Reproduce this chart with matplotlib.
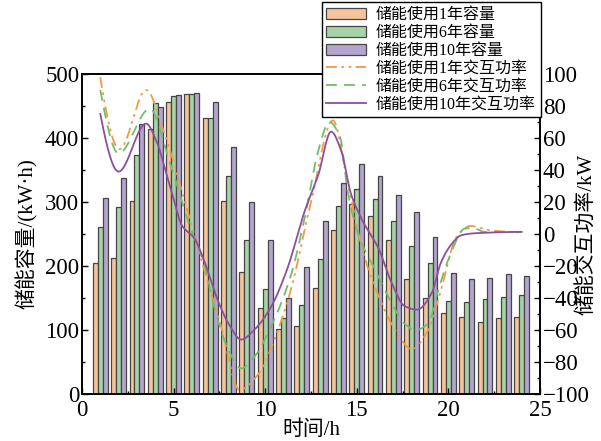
import numpy as np
import matplotlib
matplotlib.use("Agg")
import matplotlib.pyplot as plt
from matplotlib.ticker import MultipleLocator

plt.rcParams['font.family'] = ['Liberation Serif', 'Noto Sans CJK SC']
plt.rcParams['axes.unicode_minus'] = True

hours = np.arange(1, 25)
cap_1y = [204, 212, 302, 414, 457, 468, 431, 301, 190, 135, 101, 107, 166, 256, 297, 278, 240, 180, 150, 127, 121, 112, 118, 120]
cap_6y = [261, 292, 373, 454, 465, 468, 432, 340, 240, 164, 118, 139, 211, 293, 320, 305, 271, 231, 205, 146, 144, 149, 151, 154]
cap_10y = [306, 338, 422, 448, 467, 471, 456, 386, 300, 241, 150, 198, 270, 330, 359, 340, 311, 284, 246, 189, 179, 182, 188, 184]

p1_x = [1, 2.05, 3.5, 4.5, 5.5, 6.5, 7.6, 8.6, 9.6, 10.7, 11.4, 12.5, 13.7, 14.5, 15.4, 16.2, 17.1, 18.0, 18.9, 19.45, 20.5, 21.2, 22.3, 24]
p1_v = [98, 53, 90, 63, 25, -15.6, -58, -97.5, -88, -60, -35, 20, 71, 32, -13.5, -39, -60, -72, -60, -41, -1, 5, 2.3, 1]

p6_x = [1, 2, 3.7, 4.8, 5.9, 6.7, 7.25, 8.0, 8.7, 9.4, 10.15, 11.4, 12.15, 12.9, 13.5, 14.1, 14.5, 15.1, 15.9, 16.9, 17.6, 18.2, 18.9, 19.45, 20.0, 20.9, 21.3, 22, 24]
p6_v = [90, 50.4, 78.3, 44.5, 4.4, -19.8, -47, -72.6, -84, -77, -62, -26, 9.7, 52, 70, 60, 27, -1, -20, -43, -56, -60, -56, -35, -16, 3.4, 3.8, 1.3, 1.3]

p10_x = [1, 2, 3.5, 4.1, 4.6, 5.0, 5.45, 6.15, 6.7, 7.4, 8.0, 8.7, 9.4, 10.3, 11.2, 12.15, 12.9, 13.6, 14.15, 14.7, 15.25, 16.2, 16.9, 17.6, 18.3, 19.1, 19.6, 20.2, 20.7, 21.5, 24]
p10_v = [75, 39, 69, 57, 38, 22, 5.5, -3, -17.7, -41, -56, -66, -60, -46, -22, 14, 37, 64, 52, 24.5, 9.7, -9.3, -30.4, -45, -47.3, -36.7, -17.7, -6, -0.8, 0.5, 1.3]


def pchip(x, y, xs):
    x = np.asarray(x, float); y = np.asarray(y, float)
    h = np.diff(x); d = np.diff(y) / h
    n = len(x); m = np.zeros(n)
    for k in range(1, n - 1):
        if d[k - 1] * d[k] > 0:
            w1 = 2 * h[k] + h[k - 1]; w2 = h[k] + 2 * h[k - 1]
            m[k] = (w1 + w2) / (w1 / d[k - 1] + w2 / d[k])
    def endslope(h0, h1, d0, d1):
        s = ((2 * h0 + h1) * d0 - h0 * d1) / (h0 + h1)
        if np.sign(s) != np.sign(d0):
            s = 0
        elif np.sign(d0) != np.sign(d1) and abs(s) > abs(3 * d0):
            s = 3 * d0
        return s
    m[0] = endslope(h[0], h[1], d[0], d[1])
    m[-1] = endslope(h[-1], h[-2], d[-1], d[-2])
    idx = np.clip(np.searchsorted(x, xs) - 1, 0, n - 2)
    t = (xs - x[idx]) / h[idx]
    h00 = 2 * t**3 - 3 * t**2 + 1; h10 = t**3 - 2 * t**2 + t
    h01 = -2 * t**3 + 3 * t**2; h11 = t**3 - t**2
    return h00 * y[idx] + h10 * h[idx] * m[idx] + h01 * y[idx + 1] + h11 * h[idx] * m[idx + 1]


fig = plt.figure(figsize=(6.01, 4.41), dpi=100)
ax = fig.add_axes([0.1364, 0.1066, 0.762, 0.7256])
ax2 = ax.twinx()

w = 0.27
c1, c6, c10 = '#F6C49C', '#A6D4A6', '#B4A5CE'
ec = '#454545'
b1 = ax.bar(hours - w, cap_1y, w, color=c1, edgecolor=ec, linewidth=0.9, label='储能使用1年容量')
b6 = ax.bar(hours, cap_6y, w, color=c6, edgecolor=ec, linewidth=0.9, label='储能使用6年容量')
b10 = ax.bar(hours + w, cap_10y, w, color=c10, edgecolor=ec, linewidth=0.9, label='储能使用10年容量')

xs1 = np.linspace(p1_x[0], p1_x[-1], 400)
xs6 = np.linspace(p6_x[0], p6_x[-1], 400)
xs10 = np.linspace(p10_x[0], p10_x[-1], 400)
l1, = ax2.plot(xs1, pchip(p1_x, p1_v, xs1), color='#F39A3E', lw=1.3, dashes=[6, 2.5, 1.5, 2.5, 1.5, 2.5], label='储能使用1年交互功率')
l6, = ax2.plot(xs6, pchip(p6_x, p6_v, xs6), color='#6EBE6E', lw=1.3, dashes=[6, 4], label='储能使用6年交互功率')
l10, = ax2.plot(xs10, pchip(p10_x, p10_v, xs10), color='#8E4E9E', lw=1.3, label='储能使用10年交互功率')

ax.set_xlim(0, 25)
ax.set_ylim(0, 500)
ax2.set_ylim(-100, 100)
ax.xaxis.set_major_locator(MultipleLocator(5))
ax.xaxis.set_minor_locator(MultipleLocator(2.5))
ax.yaxis.set_major_locator(MultipleLocator(100))
ax.yaxis.set_minor_locator(MultipleLocator(50))
ax2.yaxis.set_major_locator(MultipleLocator(20))
ax2.yaxis.set_minor_locator(MultipleLocator(10))

for a in (ax, ax2):
    a.tick_params(which='major', direction='in', length=4, width=1, labelsize=16.5)
    a.tick_params(which='minor', direction='in', length=2.5, width=1)
    for s in a.spines.values():
        s.set_linewidth(1.2)
ax.tick_params(axis='x', pad=4)
ax.tick_params(axis='y', pad=2)
ax2.tick_params(axis='y', pad=2)

ax.set_xlabel('时间/h', fontsize=15, labelpad=0)
ax.set_ylabel('储能容量/(kW·h)', fontsize=15)
ax.yaxis.set_label_coords(-0.097, 0.5)
ax2.set_ylabel('储能交互功率/kW', fontsize=15)
ax2.yaxis.set_label_coords(1.082, 0.5)

handles = [b1, b6, b10, l1, l6, l10]
leg = fig.legend(handles, [h.get_label() for h in handles], loc='upper left',
                 bbox_to_anchor=(0.535, 0.995), fontsize=11.5, frameon=True,
                 fancybox=False, edgecolor='black', framealpha=1,
                 handlelength=2.5, handletextpad=0.6, labelspacing=0.12,
                 borderpad=0.3, borderaxespad=0)
leg.get_frame().set_linewidth(1.0)

fig.savefig('out.png', dpi=100)
